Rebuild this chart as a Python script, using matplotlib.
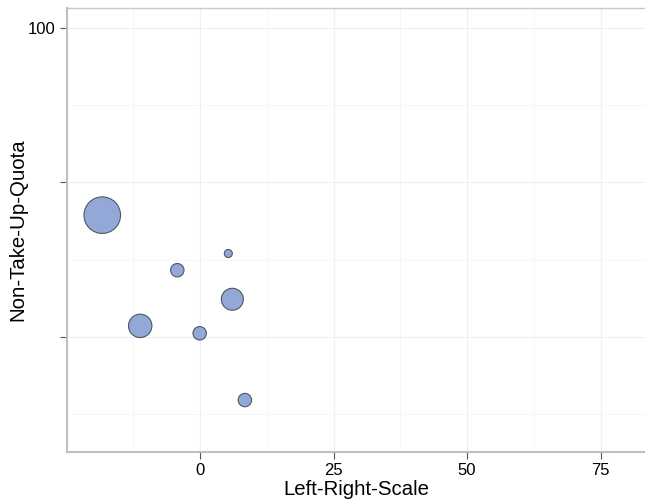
import matplotlib
matplotlib.use('Agg')
import matplotlib.pyplot as plt
from matplotlib.ticker import MultipleLocator

# bubble data
left_right = [-18.3, 5.3, -4.25, 6.05, -11.2, -0.06, 8.4]
non_take_up = [69.7, 63.5, 60.8, 56.1, 51.8, 50.6, 39.8]
weight = [335, 16, 45, 121, 137, 45, 45]

y_ticks = [50, 75, 100]
y_labels = ['', '', '100']
x_ticks = [0, 25, 50, 75]

plt.rcParams['font.family'] = ['Liberation Sans', 'DejaVu Sans']

fig = plt.figure(figsize=(6.45, 5.0), dpi=100)
ax = fig.add_axes([67 / 645, 48 / 500, 578 / 645, 444 / 500])

sizes = [w * 2.07 for w in weight]
ax.scatter(left_right, non_take_up, s=sizes, color='#93a8d6', edgecolors='#4f5663',
           linewidths=0.8, zorder=3)

ax.set_xlim(-24.9, 83.3)
ax.set_ylim(31.4, 103.2)
ax.set_xticks(x_ticks)
ax.set_yticks(y_ticks)
ax.set_yticklabels(y_labels)
ax.xaxis.set_minor_locator(MultipleLocator(12.5))
ax.yaxis.set_minor_locator(MultipleLocator(12.5))

ax.grid(True, which='major', color='#f0f0f0', linewidth=0.8, zorder=0)
ax.grid(True, which='minor', color='#f5f5f5', linewidth=0.6, zorder=0)
ax.tick_params(which='minor', length=0)
ax.tick_params(which='major', direction='out', length=5, width=0.8, color='#555555',
               labelsize=12, labelcolor='black', pad=3)

for side in ['left', 'bottom']:
    ax.spines[side].set_color('#c0c0c0')
    ax.spines[side].set_linewidth(1.5)
ax.spines['top'].set_color('#c8c8c8')
ax.spines['top'].set_linewidth(1.0)
ax.spines['right'].set_visible(False)

ax.set_xlabel('Left-Right-Scale', fontsize=14.7, labelpad=1.5)
ax.set_ylabel('Non-Take-Up-Quota', fontsize=14.7)
ax.yaxis.set_label_coords(-40 / 578, 0.5)

fig.savefig('out.png', dpi=100)
